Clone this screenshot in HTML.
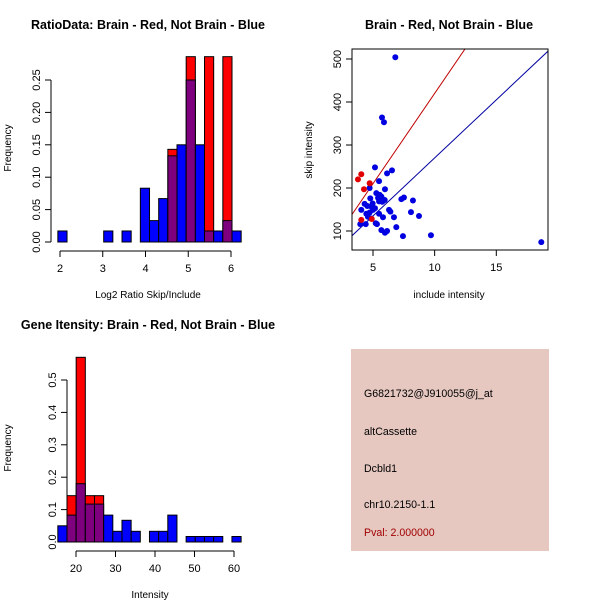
<!DOCTYPE html>
<html><head><meta charset="utf-8"><style>
body{margin:0;background:#fff}
svg{display:block;font-family:"Liberation Sans",sans-serif}
</style></head><body>
<svg id="s" width="600" height="600" xmlns="http://www.w3.org/2000/svg">
<rect width="600" height="600" fill="#fff"/>
<text x="148" y="29" font-size="12.5" font-weight="bold" text-anchor="middle">RatioData: Brain - Red, Not Brain - Blue</text>
<text x="449" y="29" font-size="12.5" font-weight="bold" text-anchor="middle">Brain - Red, Not Brain - Blue</text>
<text x="148" y="329" font-size="12.5" font-weight="bold" text-anchor="middle">Gene Itensity: Brain - Red, Not Brain - Blue</text>
<g id="p1"></g>
<g id="p2"></g>
<g id="p3"></g>
<g>
<rect x="351" y="349" width="198" height="202" fill="#e6c8c1"/>
<g font-size="10.6" fill="#000">
<text x="364" y="397">G6821732@J910055@j_at</text>
<text x="364" y="435">altCassette</text>
<text x="364" y="472">Dcbld1</text>
<text x="364" y="508">chr10.2150-1.1</text>
<text x="364" y="536" fill="#a00000">Pval: 2.000000</text>
</g></g>
</svg>
<script>
// Ratio histogram data
const ratioStart = 1.95, ratioWidth = 0.2144;
const ratioBlue = [0.017,0,0,0,0,0.017,0,0.017,0,0.083,0.033,0.067,0.133,0.15,0.25,0.15,0.017,0.017,0.033,0.017];
const ratioRed  = [0,0,0,0,0,0,0,0,0,0,0,0,0.143,0,0.286,0,0.286,0,0.286,0];
const ratioXTicks = [2,3,4,5,6];
const ratioYTicks = ["0.00","0.05","0.10","0.15","0.20","0.25"];
// Intensity histogram data
const intStart = 15.4, intWidth = 2.32;
const intBlue = [0.05,0.083,0.18,0.117,0.117,0.083,0.033,0.067,0.033,0,0.033,0.033,0.083,0,0.017,0.017,0.017,0.017,0,0.017];
const intRed  = [0,0.143,0.57,0.143,0.143,0,0,0,0,0,0,0,0,0,0,0,0,0,0,0];
const intXTicks = [20,30,40,50,60];
const intYTicks = ["0.0","0.1","0.2","0.3","0.4","0.5"];
// Scatter data
const blueX = [6.81,5.73,5.89,5.16,6.54,6.14,5.49,4.73,5.97,5.27,5.54,5.68,5.41,4.78,5.95,5.76,5.49,4.97,4.32,4.54,4.86,5.16,5.0,4.05,4.73,4.46,5.49,6.3,6.41,5.81,6.7,4.59,4.86,5.22,5.32,4.41,3.97,5.68,6.14,5.97,6.89,7.3,7.51,8.24,8.08,8.73,7.43,9.7,18.65];
const blueY = [504,364,353,248,241,234,216,200,197,188,184,180,177,176,172,168,169,164,163,158,157,153,149,149,143,140,140,149,145,132,132,133,129,118,116,116,116,102,100,96,109,174,178,171,144,135,88,90,74];
const redX = [3.78,4.05,4.27,4.73,4.05,4.9];
const redY = [220,232,197,211,126,128];
const blueLine = {a:0, b:27};
const redLine = {a:0, b:42};
const scXTicks = [5,10,15];
const scYTicks = [100,200,300,400,500];

const NS="http://www.w3.org/2000/svg";
function mk(p,t,a){const e=document.createElementNS(NS,t);for(const k in a)e.setAttribute(k,a[k]);p.appendChild(e);return e;}

function hist(g,o){
  const sx=v=>o.x0+(v-o.xv0)*o.kx, sy=v=>o.y0-v*o.ky;
  for(let i=0;i<o.blue.length;i++){
    const l=sx(o.start+i*o.w), r=sx(o.start+(i+1)*o.w);
    const b=o.blue[i], rd=o.red[i];
    if(rd>0){const e=mk(g,'rect',{x:l,y:sy(rd),width:r-l,height:sy(0)-sy(rd),fill:'#ff0000',stroke:'#000','stroke-width':1});
      }
    if(b>0){const e=mk(g,'rect',{x:l,y:sy(b),width:r-l,height:sy(0)-sy(b),fill:rd>0?'#7f007f':'#0000ff',stroke:'#000','stroke-width':1});
      }
  }
  const xt=o.xt, yt=o.yt, ay=o.y0+9;
  mk(g,'line',{x1:sx(xt[0]),x2:sx(xt[xt.length-1]),y1:ay,y2:ay,stroke:'#000'});
  xt.forEach(v=>{mk(g,'line',{x1:sx(v),x2:sx(v),y1:ay,y2:ay+6,stroke:'#000'});
    const t=mk(g,'text',{x:sx(v),y:ay+21,'font-size':11,'text-anchor':'middle'});t.textContent=v;
    });
  const ax=o.x0-9, yv=yt.map(Number);
  mk(g,'line',{x1:ax,x2:ax,y1:sy(yv[0]),y2:sy(yv[yv.length-1]),stroke:'#000'});
  yt.forEach((s,i)=>{const y=sy(yv[i]);mk(g,'line',{x1:ax-6,x2:ax,y1:y,y2:y,stroke:'#000'});
    const t=mk(g,'text',{x:ax-11,y:y,'font-size':11,'text-anchor':'middle',transform:`rotate(-90 ${ax-11} ${y})`});t.textContent=s;
    });
  const xl=mk(g,'text',{x:o.xlx,y:o.xly,'font-size':10,'text-anchor':'middle'});xl.textContent=o.xlab;
  
  const yy=o.yly;const yl=mk(g,'text',{x:11,y:yy,'font-size':10,'text-anchor':'middle',transform:`rotate(-90 11 ${yy})`});yl.textContent='Frequency';
  
}
hist(document.getElementById('p1'),{x0:60,xv0:2,kx:42.75,y0:242,ky:648,start:ratioStart,w:ratioWidth,blue:ratioBlue,red:ratioRed,xt:ratioXTicks,yt:ratioYTicks,xlab:'Log2 Ratio Skip/Include',xlx:148,xly:298,yly:148});
hist(document.getElementById('p3'),{x0:76,xv0:20,kx:3.95,y0:542,ky:324,start:intStart,w:intWidth,blue:intBlue,red:intRed,xt:intXTicks,yt:intYTicks,xlab:'Intensity',xlx:150,xly:598,yly:448});
(function(){
  const g=document.getElementById('p2');
  const sx=v=>373+(v-5)*12.33, sy=v=>231-(v-100)*0.43;
  const L=352,R=548,T=49,B=250;
  mk(g,'clipPath',{id:'cp'}).appendChild(document.createElementNS(NS,'rect'));
  const cr=g.querySelector('#cp rect');cr.setAttribute('x',L);cr.setAttribute('y',T);cr.setAttribute('width',R-L);cr.setAttribute('height',B-T);
  const x1=(L-373)/12.33+5, x2=(R-373)/12.33+5;
  [[blueLine,'#0000a0','blue-fit-line'],[redLine,'#c00000','red-fit-line']].forEach(([ln,c,n])=>{
    const e=mk(g,'line',{x1:sx(x1),y1:sy(ln.a+ln.b*x1),x2:sx(x2),y2:sy(ln.a+ln.b*x2),stroke:c,'clip-path':'url(#cp)'});
    });
  blueX.forEach((v,i)=>{const c=mk(g,'circle',{cx:sx(v),cy:sy(blueY[i]),r:3,fill:'#0000e0'});
    });
  redX.forEach((v,i)=>{const c=mk(g,'circle',{cx:sx(v),cy:sy(redY[i]),r:3,fill:'#e00000'});
    });
  mk(g,'rect',{x:L,y:T,width:R-L,height:B-T,fill:'none',stroke:'#000'});
  scXTicks.forEach(v=>{mk(g,'line',{x1:sx(v),x2:sx(v),y1:B,y2:B+6,stroke:'#000'});
    const t=mk(g,'text',{x:sx(v),y:B+21,'font-size':11,'text-anchor':'middle'});t.textContent=v;
    });
  scYTicks.forEach(v=>{const y=sy(v);mk(g,'line',{x1:L-6,x2:L,y1:y,y2:y,stroke:'#000'});
    const t=mk(g,'text',{x:L-11,y:y,'font-size':11,'text-anchor':'middle',transform:`rotate(-90 ${L-11} ${y})`});t.textContent=v;
    });
  const xl=mk(g,'text',{x:449,y:298,'font-size':10,'text-anchor':'middle'});xl.textContent='include intensity';
  
  const yl=mk(g,'text',{x:312,y:150,'font-size':10,'text-anchor':'middle',transform:'rotate(-90 312 150)'});yl.textContent='skip intensity';
  
})();
</script>
</body></html>
